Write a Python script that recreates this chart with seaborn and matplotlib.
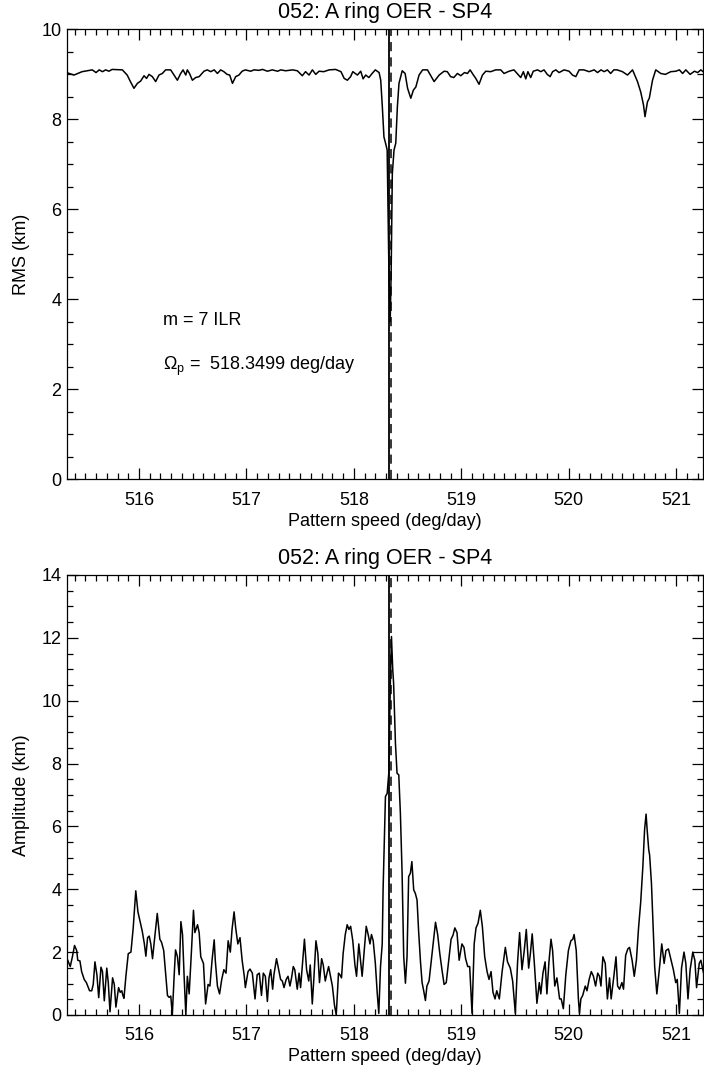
import matplotlib
matplotlib.use('Agg')
import numpy as np
import pandas as pd
import matplotlib.pyplot as plt
from matplotlib.ticker import MultipleLocator
import seaborn as sns


# RMS of the fit vs pattern speed (top panel)
rms_speed = [
    515.33, 515.35, 515.395, 515.47, 515.565, 515.60, 515.63, 515.66, 515.69, 515.72,
    515.75, 515.845, 515.89, 515.92, 515.953, 515.985, 516.015, 516.047, 516.07, 516.093,
    516.124, 516.155, 516.186, 516.217, 516.248, 516.295, 516.326, 516.357, 516.388, 516.41,
    516.435, 516.45, 516.47, 516.497, 516.528, 516.56, 516.605, 516.636, 516.667, 516.70,
    516.73, 516.76, 516.79, 516.82, 516.844, 516.87, 516.90, 516.93, 516.96, 516.99,
    517.04, 517.07, 517.117, 517.15, 517.195, 517.24, 517.29, 517.32, 517.365, 517.43,
    517.474, 517.52, 517.55, 517.583, 517.614, 517.645, 517.676, 517.72, 517.77, 517.83,
    517.88, 517.91, 517.94, 517.97, 517.99, 518.033, 518.064, 518.086, 518.11, 518.14,
    518.17, 518.20, 518.235, 518.25, 518.265, 518.28, 518.295, 518.31, 518.318, 518.327,
    518.338, 518.347, 518.358, 518.374, 518.39, 518.405, 518.42, 518.45, 518.477, 518.50,
    518.53, 518.554, 518.577, 518.607, 518.64, 518.685, 518.747, 518.794, 518.84, 518.87,
    518.90, 518.93, 518.964, 518.995, 519.03, 519.057, 519.082, 519.113, 519.135, 519.165,
    519.197, 519.228, 519.274, 519.32, 519.367, 519.398, 519.445, 519.49, 519.52, 519.553,
    519.578, 519.60, 519.62, 519.646, 519.67, 519.71, 519.74, 519.77, 519.80, 519.827,
    519.85, 519.88, 519.91, 519.957, 520.003, 520.035, 520.066, 520.097, 520.14, 520.19,
    520.237, 520.268, 520.30, 520.33, 520.36, 520.39, 520.42, 520.45, 520.50, 520.547,
    520.594, 520.64, 520.67, 520.696, 520.71, 520.733, 520.75, 520.78, 520.81, 520.857,
    520.90, 520.95, 520.997, 521.03, 521.06, 521.09, 521.13, 521.17, 521.20, 521.23,
    521.25,
]
rms_km = [
    9.04, 9.02, 8.985, 9.06, 9.10, 9.04, 9.10, 9.06, 9.10, 9.07,
    9.11, 9.10, 8.985, 8.84, 8.69, 8.80, 8.85, 8.97, 8.91, 9.00,
    8.95, 8.84, 8.985, 9.02, 9.10, 9.10, 8.985, 8.87, 9.02, 9.10,
    8.985, 9.10, 9.02, 8.87, 8.93, 8.95, 9.07, 9.10, 9.06, 9.10,
    9.02, 9.10, 9.06, 9.00, 8.985, 8.80, 8.95, 8.985, 9.07, 9.10,
    9.07, 9.10, 9.09, 9.11, 9.07, 9.10, 9.07, 9.10, 9.08, 9.10,
    9.08, 8.97, 9.06, 8.985, 9.10, 9.00, 9.07, 9.06, 9.10, 9.11,
    9.06, 8.91, 8.87, 8.95, 9.06, 8.985, 9.07, 8.90, 8.985, 8.93,
    9.02, 9.10, 9.04, 8.87, 8.28, 7.61, 7.47, 7.32, 6.06, 4.50,
    3.50, 4.58, 6.80, 7.32, 7.47, 8.28, 8.80, 9.08, 9.02, 8.69,
    8.47, 8.65, 8.72, 8.985, 9.10, 9.10, 8.84, 8.985, 9.07, 9.06,
    8.95, 8.93, 9.02, 8.97, 9.04, 9.02, 9.10, 8.985, 8.91, 8.78,
    8.985, 9.07, 9.06, 9.10, 9.10, 9.02, 9.07, 9.10, 9.02, 8.93,
    9.06, 8.90, 9.06, 8.93, 9.07, 9.10, 9.06, 9.10, 9.00, 8.95,
    9.06, 9.10, 9.04, 9.10, 9.07, 8.985, 8.95, 9.10, 9.10, 9.06,
    9.10, 9.04, 9.10, 9.06, 9.10, 9.02, 9.10, 9.10, 9.06, 8.985,
    9.10, 8.84, 8.61, 8.32, 8.06, 8.39, 8.47, 8.87, 9.10, 9.02,
    9.00, 9.06, 9.07, 9.10, 9.02, 9.10, 9.00, 9.07, 9.04, 9.10,
    9.06,
]

# amplitude vs pattern speed (bottom panel)
amp_speed = [
    515.32, 515.336, 515.36, 515.38, 515.40, 515.42, 515.43, 515.45, 515.466, 515.49,
    515.51, 515.54, 515.56, 515.574, 515.59, 515.608, 515.625, 515.646, 515.66, 515.677,
    515.70, 515.714, 515.73, 515.754, 515.77, 515.785, 515.81, 515.825, 515.84, 515.85,
    515.86, 515.878, 515.90, 515.925, 515.946, 515.97, 515.99, 516.017, 516.03, 516.05,
    516.064, 516.08, 516.095, 516.11, 516.126, 516.14, 516.17, 516.194, 516.21, 516.23,
    516.25, 516.265, 516.28, 516.296, 516.31, 516.327, 516.34, 516.358, 516.374, 516.39,
    516.405, 516.42, 516.436, 516.45, 516.467, 516.49, 516.507, 516.52, 516.545, 516.56,
    516.575, 516.60, 516.62, 516.643, 516.66, 516.68, 516.70, 516.71, 516.73, 516.75,
    516.77, 516.79, 516.81, 516.83, 516.85, 516.866, 516.885, 516.90, 516.92, 516.94,
    516.96, 516.98, 516.99, 517.015, 517.033, 517.055, 517.08, 517.10, 517.12, 517.14,
    517.157, 517.176, 517.195, 517.21, 517.226, 517.244, 517.256, 517.28, 517.30, 517.318,
    517.334, 517.35, 517.37, 517.387, 517.405, 517.42, 517.436, 517.45, 517.473, 517.49,
    517.504, 517.52, 517.54, 517.56, 517.58, 517.594, 517.613, 517.628, 517.647, 517.665,
    517.68, 517.70, 517.715, 517.734, 517.75, 517.765, 517.78, 517.80, 517.82, 517.836,
    517.857, 517.87, 517.885, 517.90, 517.92, 517.938, 517.954, 517.97, 517.99, 518.01,
    518.025, 518.046, 518.06, 518.077, 518.10, 518.115, 518.133, 518.15, 518.164, 518.18,
    518.20, 518.217, 518.232, 518.248, 518.264, 518.272, 518.294, 518.31, 518.325, 518.34,
    518.35, 518.362, 518.37, 518.387, 518.402, 518.418, 518.433, 518.449, 518.464, 518.48,
    518.495, 518.51, 518.526, 518.54, 518.557, 518.572, 518.588, 518.603, 518.62, 518.635,
    518.65, 518.666, 518.68, 518.70, 518.728, 518.76, 518.78, 518.80, 518.82, 518.84,
    518.86, 518.883, 518.905, 518.923, 518.94, 518.96, 518.98, 519.006, 519.025, 519.04,
    519.06, 519.078, 519.10, 519.12, 519.137, 519.156, 519.177, 519.196, 519.218, 519.24,
    519.258, 519.277, 519.295, 519.314, 519.33, 519.354, 519.38, 519.41, 519.43, 519.456,
    519.478, 519.503, 519.524, 519.543, 519.565, 519.586, 519.605, 519.627, 519.643, 519.66,
    519.68, 519.704, 519.726, 519.74, 519.76, 519.78, 519.797, 519.816, 519.835, 519.85,
    519.87, 519.89, 519.915, 519.93, 519.95, 519.973, 519.997, 520.02, 520.038, 520.05,
    520.07, 520.09, 520.10, 520.113, 520.13, 520.154, 520.17, 520.19, 520.21, 520.23,
    520.25, 520.27, 520.286, 520.30, 520.318, 520.34, 520.36, 520.38, 520.395, 520.42,
    520.44, 520.455, 520.473, 520.495, 520.51, 520.53, 520.55, 520.566, 520.59, 520.61,
    520.63, 520.65, 520.67, 520.69, 520.706, 520.72, 520.73, 520.745, 520.753, 520.77,
    520.784, 520.80, 520.82, 520.84, 520.866, 520.888, 520.905, 520.928, 520.95, 520.974,
    520.996, 521.01, 521.03, 521.05, 521.073, 521.09, 521.11, 521.13, 521.155, 521.174,
    521.19, 521.215, 521.23, 521.255,
]
amp_km = [
    1.80, 1.75, 1.54, 1.85, 2.21, 2.05, 1.74, 1.72, 1.38, 1.13,
    1.03, 0.77, 0.77, 0.97, 1.69, 1.28, 0.55, 1.52, 1.38, 0.45,
    1.49, 1.03, 0.10, 1.18, 0.97, 0.25, 0.87, 0.72, 0.77, 0.62,
    0.53, 1.23, 1.95, 2.00, 2.77, 3.95, 3.28, 2.87, 2.67, 2.26,
    1.87, 2.46, 2.51, 2.26, 1.79, 2.26, 3.23, 2.41, 2.31, 2.05,
    1.23, 0.62, 0.56, 0.60, 0.00, 1.23, 2.07, 1.85, 1.28, 2.97,
    2.56, 1.23, 0.00, 1.23, 0.67, 2.15, 3.33, 2.62, 2.87, 2.62,
    1.85, 1.64, 0.35, 0.97, 0.92, 1.74, 2.39, 1.74, 0.92, 0.67,
    1.13, 1.44, 1.33, 2.36, 2.00, 2.72, 3.28, 2.77, 2.26, 2.46,
    1.74, 1.23, 0.87, 1.38, 1.46, 1.33, 0.51, 1.28, 1.33, 0.62,
    1.33, 1.23, 0.43, 1.18, 1.44, 0.82, 1.28, 1.79, 1.44, 1.13,
    1.08, 0.87, 1.13, 1.23, 0.92, 1.18, 1.54, 1.44, 0.82, 1.33,
    0.87, 1.54, 2.41, 1.44, 1.08, 1.59, 0.35, 1.18, 2.36, 1.95,
    1.03, 1.79, 1.59, 1.08, 1.33, 1.54, 1.28, 0.92, 0.30, 0.00,
    1.33, 1.28, 1.18, 1.95, 2.56, 2.87, 2.72, 2.82, 2.36, 1.59,
    1.23, 2.26, 1.79, 1.23, 2.21, 2.82, 2.56, 2.26, 2.56, 2.36,
    1.64, 0.72, 0.05, 1.54, 2.26, 3.98, 6.95, 7.05, 7.69, 10.66,
    12.04, 10.98, 10.55, 8.64, 7.69, 7.64, 6.42, 4.51, 1.86, 1.01,
    1.86, 4.40, 4.51, 4.88, 3.98, 3.87, 3.66, 2.65, 1.70, 1.03,
    0.77, 0.46, 0.92, 1.08, 1.95, 2.95, 2.56, 1.95, 1.44, 0.97,
    1.03, 1.74, 2.41, 2.54, 2.77, 2.62, 1.74, 2.26, 2.15, 1.79,
    1.54, 1.54, 0.05, 2.26, 2.77, 2.92, 3.33, 2.82, 1.85, 1.38,
    1.13, 1.38, 0.72, 0.51, 0.77, 0.51, 1.38, 2.15, 1.69, 1.49,
    1.08, 0.05, 1.69, 2.62, 1.44, 2.05, 2.72, 1.49, 1.95, 2.58,
    1.64, 0.37, 1.03, 0.67, 1.33, 1.69, 0.67, 1.69, 2.41, 2.05,
    0.92, 1.18, 0.51, 0.51, 0.20, 1.28, 2.05, 2.36, 2.41, 2.56,
    2.05, 0.51, 0.05, 0.51, 0.62, 0.92, 0.77, 1.13, 1.38, 1.23,
    0.92, 1.33, 1.23, 0.92, 1.85, 1.64, 0.51, 1.18, 0.51, 1.23,
    1.85, 0.92, 0.82, 1.03, 0.82, 1.90, 2.10, 2.15, 1.74, 1.23,
    1.74, 2.77, 3.59, 4.72, 5.89, 6.39, 5.89, 5.25, 5.09, 4.19,
    2.92, 1.54, 0.67, 1.33, 2.26, 1.64, 2.05, 2.10, 1.79, 1.44,
    1.03, 1.13, 0.05, 1.49, 2.00, 1.64, 0.51, 1.44, 2.00, 1.74,
    0.87, 1.64, 1.74, 1.33,
]

peak_speed = 518.33      # solid marker line
omega_p = 518.3499       # dashed line, predicted m=7 ILR
x_range = (515.33, 521.25)
title = '052: A ring OER - SP4'

sns.set_style('white')
plt.rcParams['font.family'] = ['Liberation Sans', 'DejaVu Sans']
plt.rcParams['mathtext.fontset'] = 'custom'
plt.rcParams['mathtext.rm'] = 'Liberation Sans'
plt.rcParams['mathtext.it'] = 'Liberation Sans:italic'
for key in ['text.color', 'axes.labelcolor', 'xtick.color', 'ytick.color']:
    plt.rcParams[key] = 'black'

rms_df = pd.DataFrame({'speed': rms_speed, 'rms': rms_km})
amp_df = pd.DataFrame({'speed': amp_speed, 'amp': amp_km})

fig = plt.figure(figsize=(7.04, 10.84), dpi=100)
ax1 = fig.add_axes([0.0952, 0.5578, 0.9034, 0.4151])
ax2 = fig.add_axes([0.0952, 0.0637, 0.9034, 0.4059])

sns.lineplot(data=rms_df, x='speed', y='rms', ax=ax1, color='k', lw=1.1,
             estimator=None, sort=False)
sns.lineplot(data=amp_df, x='speed', y='amp', ax=ax2, color='k', lw=1.1,
             estimator=None, sort=False)

for ax, ymax, ylab in [(ax1, 10, 'RMS (km)'), (ax2, 14, 'Amplitude (km)')]:
    ax.axvline(peak_speed, color='k', lw=1.3)
    ax.axvline(omega_p, color='k', lw=1.1, ls=(0, (6, 4)))
    ax.set_xlim(*x_range)
    ax.set_ylim(0, ymax)
    ax.xaxis.set_major_locator(MultipleLocator(1))
    ax.xaxis.set_minor_locator(MultipleLocator(0.1))
    ax.yaxis.set_major_locator(MultipleLocator(2))
    ax.yaxis.set_minor_locator(MultipleLocator(0.5))
    ax.tick_params(which='both', direction='in', top=True, right=True,
                   bottom=True, left=True, color='k', width=0.9, labelsize=13)
    ax.tick_params(which='major', length=8)
    ax.tick_params(which='minor', length=4.5)
    ax.tick_params(axis='x', pad=9)
    ax.tick_params(axis='y', pad=4)
    for sp in ax.spines.values():
        sp.set_color('k')
        sp.set_linewidth(0.9)
    ax.set_xlabel('Pattern speed (deg/day)', fontsize=13)
    ax.set_ylabel(ylab, fontsize=13)
    ax.xaxis.set_label_coords(0.5, -0.075)
    ax.yaxis.set_label_coords(-0.058, 0.5)
    ax.set_title(title, fontsize=15.5, pad=8)

ax1.text(0.151, 0.354, 'm = 7 ILR', transform=ax1.transAxes, fontsize=13, va='center')
ax1.text(0.151, 0.25, r'$\Omega_{\mathrm{p}}$ =  %.4f deg/day' % omega_p,
         transform=ax1.transAxes, fontsize=13, va='center')

fig.savefig('out.png', dpi=100)
